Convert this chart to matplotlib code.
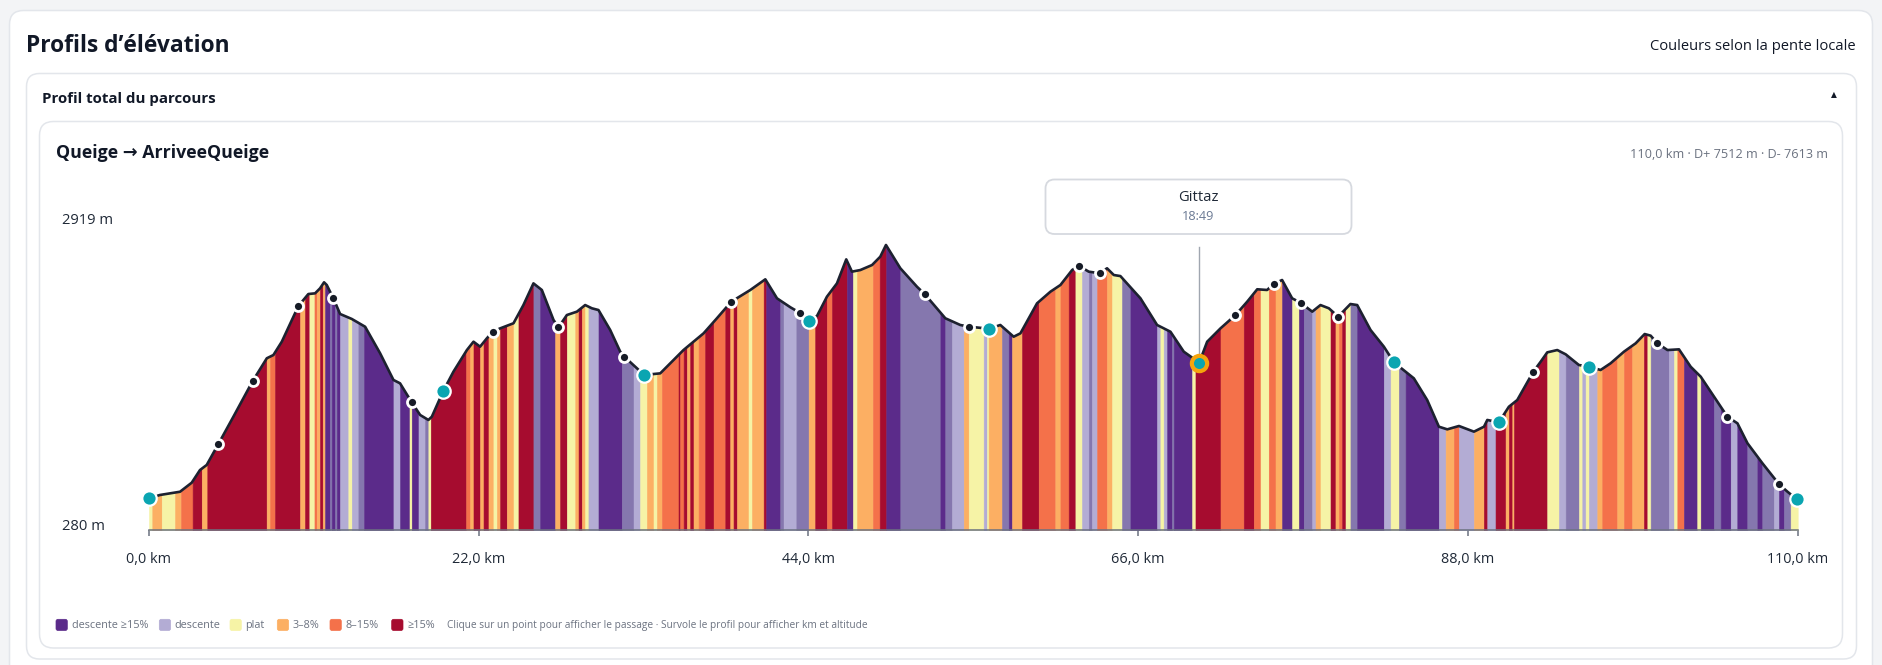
import numpy as np
import matplotlib
matplotlib.use("Agg")
import matplotlib.pyplot as plt
from matplotlib.patches import FancyBboxPatch
from matplotlib.transforms import IdentityTransform, Bbox, TransformedBbox

plt.rcParams['font.family'] = ['Open Sans', 'DejaVu Sans']

# ---------------- data ----------------
profile_km = [0.0, 0.73, 2.07, 2.85, 3.40, 3.85, 4.63, 5.63, 6.92, 7.86, 8.30, 8.86, 9.97, 10.63, 11.08,
              11.41, 11.68, 11.86, 12.30, 12.75, 13.53, 14.42, 15.42, 16.31, 16.75, 17.53, 18.09, 18.64,
              18.87, 19.64, 20.31, 21.21, 21.65, 22.09, 22.54, 22.94, 23.43, 24.32, 24.98, 25.65, 26.21,
              26.99, 27.32, 27.88, 28.55, 29.10, 29.55, 29.99, 30.77, 31.44, 31.71, 33.04, 34.11, 35.66,
              37.00, 37.89, 38.85, 40.12, 41.12, 41.90, 42.79, 43.41, 44.05, 44.57, 45.23, 45.90, 46.52,
              46.90, 47.46, 48.24, 48.79, 49.17, 50.13, 51.24, 51.75, 53.13, 54.13, 54.73, 56.05, 56.80,
              57.69, 58.14, 59.25, 60.14, 60.81, 61.59, 62.03, 62.70, 63.43, 63.92, 64.37, 64.81, 66.15,
              67.26, 68.15, 69.04, 70.07, 70.60, 71.49, 72.49, 73.27, 73.94, 74.60, 75.04, 75.60, 76.27,
              76.83, 77.61, 78.16, 78.72, 79.34, 80.16, 80.61, 81.50, 82.39, 83.06, 84.39, 85.28, 86.06,
              86.62, 87.40, 88.40, 89.07, 89.29, 90.06, 90.73, 91.29, 92.36, 92.85, 93.29, 93.96, 94.52,
              95.40, 96.07, 96.85, 97.52, 98.41, 99.19, 99.79, 100.19, 100.64, 101.31, 102.08, 102.86,
              103.53, 104.42, 105.31, 105.98, 106.65, 107.65, 108.76, 109.32, 109.92, 110.0]
profile_elev = [553, 582, 610, 688, 797, 841, 1022, 1257, 1565, 1761, 1789, 1904, 2212, 2315, 2321,
                2364, 2416, 2393, 2278, 2143, 2100, 2033, 1804, 1574, 1545, 1381, 1272, 1229,
                1257, 1481, 1645, 1832, 1904, 1861, 1933, 1990, 2019, 2063, 2220, 2407, 2350,
                2091, 2028, 2134, 2163, 2220, 2192, 2177, 2005, 1818, 1775, 1617, 1631, 1832,
                1976, 2106, 2249, 2350, 2442, 2278, 2201, 2154, 2085, 2126, 2292, 2407, 2614,
                2508, 2522, 2565, 2637, 2738, 2537, 2378, 2315, 2106, 2048, 2033, 2016, 2048,
                1947, 1976, 2235, 2335, 2393, 2522, 2559, 2508, 2494, 2537, 2479, 2470, 2278,
                2048, 1990, 1818, 1723, 1904, 2019, 2134, 2249, 2356, 2350, 2402, 2436, 2278,
                2240, 2163, 2220, 2192, 2120, 2229, 2220, 2005, 1861, 1726, 1588, 1401, 1171,
                1148, 1177, 1128, 1171, 1229, 1209, 1343, 1401, 1645, 1731, 1812, 1832, 1795,
                1703, 1688, 1660, 1718, 1818, 1890, 1970, 1956, 1890, 1832, 1838, 1688,
                1602, 1430, 1257, 1200, 1028, 855, 674, 610, 547, 525]

# slope bands: start km + category code
# D descente >=15%, M descente 8-15%, L descente, Y plat, O 3-8%, C 8-15%, R >=15%
band_start_km = [0.00, 0.22, 0.85, 1.74, 2.14, 2.91, 3.52, 3.89, 7.85, 8.08,
                 8.41, 10.08, 10.41, 10.70, 11.04, 11.19, 11.41, 11.59, 11.75, 12.08,
                 12.19, 12.42, 12.53, 12.75, 13.30, 13.53, 13.97, 14.35, 16.31, 16.75,
                 17.38, 17.53, 17.98, 18.42, 18.64, 18.80, 21.16, 21.43, 21.65, 22.09,
                 22.32, 22.65, 22.98, 23.21, 23.43, 23.87, 24.32, 24.65, 25.65, 26.10,
                 27.10, 27.43, 27.88, 28.44, 28.66, 28.88, 29.10, 29.32, 29.99, 31.55,
                 32.33, 32.77, 33.22, 33.66, 33.89, 34.22, 35.33, 35.44, 35.67, 35.89,
                 36.11, 36.33, 36.67, 37.11, 37.67, 38.45, 38.78, 39.00, 39.23, 40.00,
                 40.23, 41.01, 41.18, 42.12, 42.34, 43.19, 44.01, 44.45, 45.23, 45.57,
                 46.57, 46.97, 47.24, 48.30, 48.75, 49.19, 50.13, 52.80, 53.13, 53.58,
                 54.36, 54.69, 55.69, 55.91, 56.02, 56.91, 57.36, 57.58, 58.25, 59.36,
                 60.47, 60.81, 61.36, 61.81, 62.25, 62.70, 62.92, 63.26, 63.92, 64.26,
                 64.92, 65.48, 67.26, 67.48, 67.70, 67.93, 68.26, 68.37, 69.60, 69.82,
                 71.49, 73.04, 73.71, 74.16, 74.71, 75.16, 75.60, 76.27, 76.72, 77.05,
                 77.61, 77.83, 78.16, 78.83, 79.16, 79.39, 79.61, 79.83, 80.16, 80.61,
                 82.39, 82.84, 83.39, 83.84, 86.06, 86.51, 87.06, 87.40, 88.40, 89.06,
                 89.29, 89.84, 90.51, 90.73, 90.96, 91.07, 93.29, 94.07, 94.52, 95.41,
                 95.63, 95.85, 96.07, 96.63, 96.96, 97.96, 98.41, 98.96, 99.74, 99.97,
                 100.19, 101.41, 101.75, 101.97, 102.41, 103.30, 103.53, 104.42, 104.86, 105.53,
                 105.97, 106.64, 107.31, 107.64, 108.42, 108.75, 109.09, 109.53]
band_category = list("YOYOCROROC"
                     + "RORYCORODM" + "DMDLYLMDLD" + "YDLMYRCORO" + "ROYOROYRMD"
                     + "ORYOROYLDM" + "LYOYOCRCRO" + "ROCRCROROY"
                     + "ORDMLMORCR" + "DYOCRDMDML" + "OYLYOMDORC" + "OCRYLMLCOY"
                     + "MDLYLDMDYR" + "CRCYCODYDM" + "LOYROCRYMD" + "LYMDLOCLOR"
                     + "LRORORYLMY" + "LYLOCOCORY" + "MLYCDYDMDL" + "DMDMLDMY")
total_km = 110.0

marker_km = [0.0, 4.63, 6.92, 9.97, 12.30, 17.53, 19.64, 22.94, 27.32, 31.71, 33.04, 38.85, 43.41,
             44.05, 51.75, 54.73, 56.05, 62.03, 63.43, 70.07, 72.49, 75.04, 76.83, 79.34, 83.06,
             90.06, 92.36, 96.07, 100.64, 105.31, 108.76, 109.92]
marker_kind = ["ravito", "point", "point", "point", "point", "point", "ravito", "point", "point",
               "point", "ravito", "point", "point", "ravito", "point", "point", "ravito", "point",
               "point", "ravito", "point", "point", "point", "point", "ravito", "ravito", "point",
               "ravito", "point", "point", "point", "ravito"]
selected_km = 70.07
selected_name = "Gittaz"
selected_time = "18:49"

x_ticks_km = [0, 22, 44, 66, 88, 110]
y_min_m, y_max_m = 280, 2919
d_plus, d_minus = 7512, 7613

legend_labels = ["descente ≥15%", "descente", "plat", "3–8%", "8–15%", "≥15%"]
legend_codes = ["D", "L", "Y", "O", "C", "R"]

COL = {"D": "#5B2B8A", "M": "#8577AE", "L": "#B3ACD4", "Y": "#F6F3A6",
       "O": "#FCAF63", "C": "#F4714A", "R": "#A60C2F"}

assert len(profile_km) == len(profile_elev)
assert len(band_start_km) == len(band_category), (len(band_start_km), len(band_category))
assert len(marker_km) == len(marker_kind)

# ---------------- figure ----------------
W, H = 1882, 665
fig = plt.figure(figsize=(W / 100, H / 100), dpi=100)
fig.patch.set_facecolor("#F3F4F6")
ID = IdentityTransform()


def rbox(x0, y0, x1, y1, r, fc, ec, lw=1.0, z=0):
    p = FancyBboxPatch((x0, H - y1), x1 - x0, y1 - y0,
                       boxstyle=f"round,pad=0,rounding_size={r}",
                       fc=fc, ec=ec, lw=lw, transform=ID, zorder=z)
    fig.add_artist(p)


def ftext(x, y, s, **kw):
    fig.text(x, H - y, s, transform=ID, **kw)


# cards
rbox(9.5, 10.5, 1872.5, 700, 14, "white", "#E3E6EB", 1.1)
rbox(26.5, 73.5, 1856.5, 659, 13, "white", "#E3E6EB", 1.1)
rbox(39.5, 121.5, 1842.5, 648, 14, "white", "#E3E6EB", 1.1)

ftext(26, 46.5, "Profils d’élévation", fontsize=16.4, fontweight="bold", color="#111827", va="center")
ftext(1856, 46.5, "Couleurs selon la pente locale", fontsize=10.6, color="#111827", va="center", ha="right")
ftext(42, 99.5, "Profil total du parcours", fontsize=10.8, fontweight="bold", color="#111827", va="center")
ftext(1834, 96, "▲", fontsize=5.5, color="#111827", va="center", ha="center")
ftext(56, 152.5, "Queige → ArriveeQueige", fontsize=12.8, fontweight="bold", color="#111827", va="center")
ftext(1828, 154.5, f"{total_km:.1f}".replace(".", ",") + f" km · D+ {d_plus} m · D- {d_minus} m",
      fontsize=9.1, color="#6B7280", va="center", ha="right")

# axes
x0p, x1p, ytop, ybot = 149, 1797.7, 224, 530
ax = fig.add_axes([x0p / W, (H - ybot) / H, (x1p - x0p) / W, (ybot - ytop) / H])
ax.set_xlim(0, total_km)
ax.set_ylim(y_min_m, y_max_m)
ax.patch.set_alpha(0)
for s in ["top", "right", "left"]:
    ax.spines[s].set_visible(False)
ax.spines["bottom"].set_color("#6B7280")
ax.spines["bottom"].set_linewidth(1.1)
ax.set_yticks([])
ax.set_xticks(x_ticks_km)
ax.set_xticklabels([f"{v:.1f}".replace(".", ",") + " km" for v in x_ticks_km])
ax.tick_params(axis="x", length=4.5, width=1.1, color="#6B7280", pad=11.5,
               labelsize=10.4, labelcolor="#1F2937")

km = np.array(profile_km, float)
el = np.array(profile_elev, float)
edges = list(band_start_km) + [total_km]
for i, cat in enumerate(band_category):
    a, b = edges[i], edges[i + 1]
    xs = np.concatenate(([a], km[(km > a) & (km < b)], [b]))
    ys = np.interp(xs, km, el)
    ax.fill_between(xs, y_min_m, ys, facecolor=COL[cat], edgecolor=COL[cat], lw=0.4, zorder=2)

ax.plot(km, el, color="#1D2130", lw=1.9, solid_joinstyle="round", zorder=4)

# y labels
for v in (y_max_m, y_min_m):
    ax.annotate(f"{v} m", xy=(62.5, v), xycoords=("figure pixels", "data"), va="baseline",
                ha="left", fontsize=10.6, color="#1F2937", annotation_clip=False)

# selection line
sel_el = np.interp(selected_km, km, el)
ax.plot([selected_km, selected_km], [y_min_m + (ybot - 247) * (y_max_m - y_min_m) / (ybot - ytop), sel_el],
        color="#A0A6B0", lw=1.0, zorder=3, clip_on=False)

mk = np.array(marker_km)
me = np.interp(mk, km, el)
kinds = np.array(marker_kind)
pm = kinds == "point"
ax.plot(mk[pm], me[pm], "o", ms=7.2, mfc="#161B26", mec="white", mew=2.0, zorder=6, clip_on=False)
rm = (kinds == "ravito") & (np.abs(mk - selected_km) > 1e-6)
ax.plot(mk[rm], me[rm], "o", ms=10.4, mfc="#0AA5B1", mec="white", mew=1.6, zorder=7, clip_on=False)
ax.plot([selected_km], [sel_el], "o", ms=11.0, mfc="#0AA5B1", mec="#F5A40C", mew=3.0, zorder=8,
        clip_on=False)

# tooltip
rbox(1045.5, 179.5, 1351.5, 234, 9, "white", "#D6D9DF", 1.3, z=9)
ftext(1198.5, 197.5, selected_name, fontsize=10.6, color="#1F2937", ha="center", va="center", zorder=10)
ftext(1198.5, 216.5, selected_time, fontsize=9.2, color="#6B7A94", ha="center", va="center", zorder=10)

# legend
lx = [56, 159.3, 230, 277.3, 330, 391.7]
for x, code, lab in zip(lx, legend_codes, legend_labels):
    rbox(x, 619.3, x + 11.3, 630.5, 2, COL[code], COL[code], 0.5)
    ftext(x + 15.5, 625.5, lab, fontsize=7.8, color="#6B7280", va="center")
ftext(447.3, 625.5, "Clique sur un point pour afficher le passage · Survole le profil pour afficher km et altitude",
      fontsize=7.3, color="#6B7280", va="center")

fig.canvas.draw()
clip = TransformedBbox(Bbox([[0, 0], [1827, H]]), ID)
for lbl in ax.get_xticklabels():
    lbl.set_clip_box(clip)
    lbl.set_clip_on(True)

fig.savefig("out.png", dpi=100, facecolor=fig.get_facecolor())
